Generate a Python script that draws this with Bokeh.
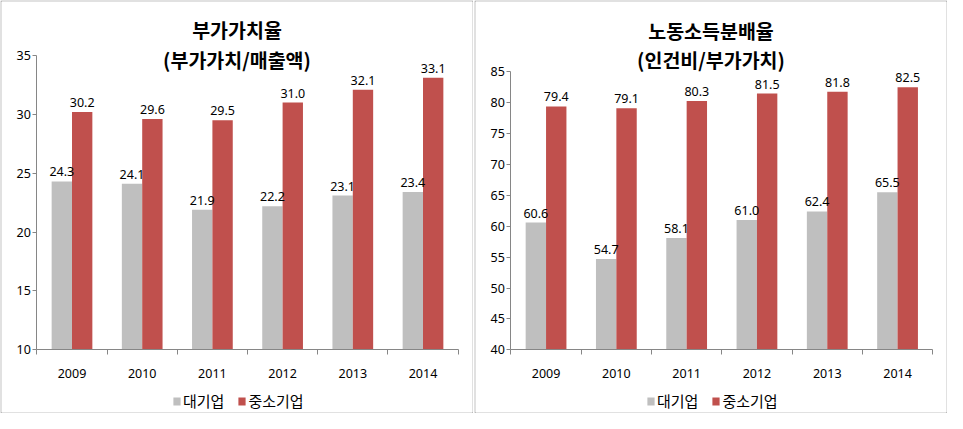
from bokeh.plotting import figure
from bokeh.layouts import row
from bokeh.models import ColumnDataSource, LinearAxis, FixedTicker, Range1d, Legend, LegendItem
from bokeh.core.properties import value
from bokeh.embed import file_html
from bokeh.resources import INLINE

# ---------------- data ----------------
years = ["2009", "2010", "2011", "2012", "2013", "2014"]
series_names = ["대기업", "중소기업"]

va_title = ["부가가치율", "(부가가치/매출액)"]
va_large = [24.3, 24.1, 21.9, 22.2, 23.1, 23.4]
va_sme = [30.2, 29.6, 29.5, 31.0, 32.1, 33.1]
va_ticks = [10, 15, 20, 25, 30, 35]

labor_title = ["노동소득분배율", "(인건비/부가가치)"]
labor_large = [60.6, 54.7, 58.1, 61.0, 62.4, 65.5]
labor_sme = [79.4, 79.1, 80.3, 81.5, 81.8, 82.5]
labor_ticks = [40, 45, 50, 55, 60, 65, 70, 75, 80, 85]

# ---------------- style ----------------
W, H = 473, 413
FONT = "Noto Sans CJK KR"
NUM_FONT = "Noto Sans"
GRAY = "#BFBFBF"
RED = "#C0504D"
AXIS = "#868686"
BORDER = "#868686"
BAR_W = 0.29


def make_chart(titles, large, sme, ticks, ax_x0, cat_w, y_top_px, y_bot_px, t1_px, t2_px):
    vmin, vmax = ticks[0], ticks[-1]
    ppu = (y_bot_px - y_top_px) / (vmax - vmin)
    f_left, f_right, f_top, f_bot = 1, W - 1, 1, H - 1
    x_start = (f_left - ax_x0) / cat_w
    x_end = (f_right - ax_x0) / cat_w
    y_end = vmin + (y_bot_px - f_top) / ppu
    y_start = vmin - (f_bot - y_bot_px) / ppu

    def y_of(px):
        return vmin + (y_bot_px - px) / ppu

    p = figure(width=W, height=H,
               x_range=Range1d(x_start, x_end), y_range=Range1d(y_start, y_end),
               x_axis_type=None, y_axis_type=None,
               toolbar_location=None, output_backend="svg",
               min_border_left=1, min_border_right=1, min_border_top=1, min_border_bottom=1)
    p.border_fill_color = BORDER
    p.background_fill_color = "white"
    p.outline_line_color = None

    n = len(years)
    xs_large = [i + 0.5 - BAR_W / 2 for i in range(n)]
    xs_sme = [i + 0.5 + BAR_W / 2 for i in range(n)]

    src_l = ColumnDataSource(dict(x=xs_large, top=large, lab=["%.1f" % v for v in large]))
    src_s = ColumnDataSource(dict(x=xs_sme, top=sme, lab=["%.1f" % v for v in sme]))

    r1 = p.vbar(x="x", top="top", bottom=vmin, width=BAR_W, source=src_l,
                fill_color=GRAY, line_color=None)
    r2 = p.vbar(x="x", top="top", bottom=vmin, width=BAR_W, source=src_s,
                fill_color=RED, line_color=None)

    for src in (src_l, src_s):
        p.text(x="x", y="top", text="lab", source=src, text_align="center",
               text_baseline="alphabetic", y_offset=-9.5,
               text_font=value(NUM_FONT), text_font_size="12.5px", text_color="#000000")

    # titles
    xc = (W / 2 - ax_x0) / cat_w
    p.text(x=[xc], y=[y_of(t1_px)], text=[titles[0]], text_align="center",
           text_baseline="middle", text_font=value(FONT), text_font_size="19.5px",
           text_font_style="bold", text_color="#000000")
    p.text(x=[xc], y=[y_of(t2_px)], text=[titles[1]], text_align="center",
           text_baseline="middle", text_font=value(FONT), text_font_size="19.5px",
           text_font_style="bold", text_color="#000000")

    # axes
    xax = LinearAxis(fixed_location=vmin, bounds=(0, n))
    xax.ticker = FixedTicker(ticks=[i + 0.5 for i in range(n)], minor_ticks=list(range(n + 1)))
    xax.major_label_overrides = {i + 0.5: years[i] for i in range(n)}
    xax.major_tick_out = 0
    xax.major_tick_in = 0
    xax.minor_tick_out = 5
    xax.minor_tick_in = 0
    xax.axis_line_color = AXIS
    xax.minor_tick_line_color = AXIS
    xax.major_label_standoff = 14
    xax.major_label_text_font = NUM_FONT
    xax.major_label_text_font_size = "12.5px"
    xax.major_label_text_color = "#000000"
    p.add_layout(xax, "below")

    yax = LinearAxis(fixed_location=0, bounds=(vmin, vmax))
    yax.ticker = FixedTicker(ticks=ticks)
    yax.major_tick_out = 4
    yax.major_tick_in = 0
    yax.minor_tick_out = 0
    yax.minor_tick_in = 0
    yax.axis_line_color = AXIS
    yax.major_tick_line_color = AXIS
    yax.major_label_standoff = 2
    yax.major_label_text_font = NUM_FONT
    yax.major_label_text_font_size = "12.5px"
    yax.major_label_text_color = "#000000"
    p.add_layout(yax, "left")

    legend = Legend(items=[LegendItem(label=series_names[0], renderers=[r1]),
                           LegendItem(label=series_names[1], renderers=[r2])],
                    location=(171, 1), orientation="horizontal",
                    glyph_width=9, glyph_height=10, label_standoff=2, spacing=13,
                    padding=0, margin=0, border_line_color=None,
                    background_fill_alpha=0,
                    label_text_font=FONT, label_text_font_size="15px",
                    label_text_color="#000000")
    p.add_layout(legend, "center")
    return p


p1 = make_chart(va_title, va_large, va_sme, va_ticks, 36.4, 70.2, 55.0, 349.3, 29, 59)
p2 = make_chart(labor_title, labor_large, labor_sme, labor_ticks, 36.4, 70.3, 71.4, 349.3, 30, 58.5)

layout = row(p1, p2, spacing=1)
open("out.html", "w").write(file_html(layout, INLINE))
